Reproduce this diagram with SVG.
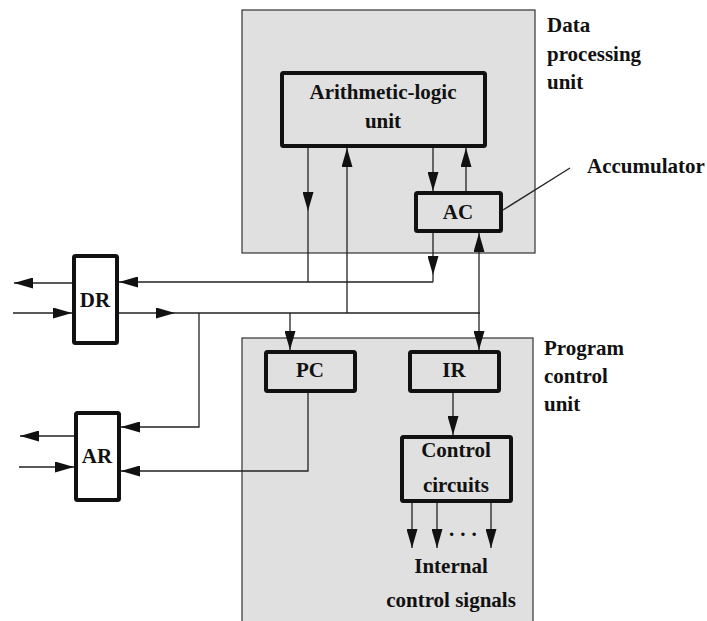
<svg xmlns="http://www.w3.org/2000/svg" width="707" height="621" viewBox="0 0 707 621">
<style>
text{font-family:'Liberation Serif','DejaVu Serif',serif;font-weight:700;font-size:21px;fill:#111}
.unit{fill:#e0e0e0;stroke:#333;stroke-width:1.2}
.reg{fill:#e0e0e0;stroke:#111;stroke-width:4}
.regw{fill:#fff;stroke:#111;stroke-width:4}
.c{text-anchor:middle}
.ln{fill:none;stroke:#222;stroke-width:1.3}
.ar{fill:none;stroke:#222;stroke-width:1.3;marker-end:url(#ah)}
</style>
<defs>
<marker id="ah" markerUnits="userSpaceOnUse" markerWidth="19" markerHeight="11" refX="19" refY="5.5" orient="auto-start-reverse" viewBox="0 0 19 11">
<path d="M0,0 L19,5.5 L0,11 z" fill="#111"/>
</marker>
</defs>
<g id="data-processing-unit">
<rect class="unit" x="242" y="10" width="293" height="243"/>
<text x="547" y="32">Data</text>
<text x="547" y="61">processing</text>
<text x="547" y="89">unit</text>
</g>
<g id="program-control-unit">
<rect class="unit" x="242" y="338" width="291" height="300"/>
<text x="544" y="355">Program</text>
<text x="544" y="383">control</text>
<text x="544" y="411">unit</text>
</g>
<g id="alu">
<rect class="reg" x="282" y="73" width="203" height="73" rx="1.5"/>
<text class="c" x="383" y="99">Arithmetic-logic</text>
<text class="c" x="383" y="128">unit</text>
</g>
<g id="ac">
<rect class="reg" x="416" y="193" width="85" height="38" rx="1.5"/>
<text class="c" x="458" y="219">AC</text>
</g>
<g id="accumulator-label">
<text x="587" y="173">Accumulator</text>
</g>
<g id="dr">
<rect class="regw" x="74" y="256" width="43" height="87" rx="1.5"/>
<text class="c" x="95" y="307">DR</text>
</g>
<g id="ar">
<rect class="regw" x="76" y="413" width="43" height="87" rx="1.5"/>
<text class="c" x="97" y="463">AR</text>
</g>
<g id="pc">
<rect class="reg" x="266" y="352" width="89" height="39" rx="1.5"/>
<text class="c" x="310" y="377">PC</text>
</g>
<g id="ir">
<rect class="reg" x="410" y="352" width="89" height="39" rx="1.5"/>
<text class="c" x="454" y="377">IR</text>
</g>
<g id="control-circuits">
<rect class="reg" x="402" y="437" width="109" height="64" rx="1.5"/>
<text class="c" x="456" y="457">Control</text>
<text class="c" x="456" y="492">circuits</text>
</g>
<g id="internal-signals">
<text x="449" y="536" letter-spacing="6">...</text>
<text class="c" x="451" y="573">Internal</text>
<text class="c" x="451" y="607">control signals</text>
</g>
<g id="connectors">
<path class="ar" d="M308,148 V211"/>
<path class="ln" d="M308,211 V282"/>
<path class="ar" d="M433,233 V275"/>
<path class="ln" d="M433,275 V282"/>
<path class="ar" d="M433,282 H119"/>
<path class="ar" d="M119,313 H175"/>
<path class="ln" d="M175,313 H480"/>
<path class="ar" d="M347,313 V148"/>
<path class="ar" d="M290,313 V350"/>
<path class="ar" d="M479,350 V233" style="marker-start:url(#ah)"/>
<path class="ar" d="M433,148 V191"/>
<path class="ar" d="M466,191 V148"/>
<path class="ar" d="M199,313 V427 H121"/>
<path class="ar" d="M308,393 V471 H121"/>
<path class="ar" d="M453,393 V435"/>
<path class="ar" d="M412,503 V548"/>
<path class="ar" d="M437,503 V548"/>
<path class="ar" d="M491,503 V548"/>
<path class="ar" d="M72,283 H14"/>
<path class="ar" d="M13,313 H72"/>
<path class="ar" d="M74,436 H20"/>
<path class="ar" d="M19,467 H74"/>
<path class="ln" d="M503,210 L570,168"/>
</g>
</svg>
